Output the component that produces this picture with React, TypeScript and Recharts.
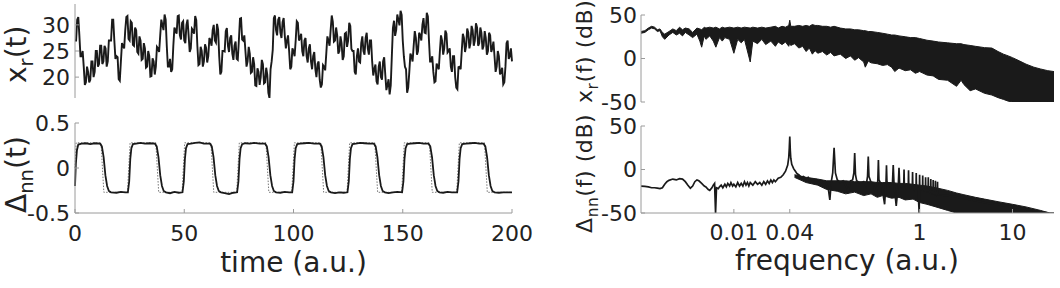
import React from 'react';
import { ComposedChart, Line, Area, XAxis, YAxis } from 'recharts';

const FONT = '"DejaVu Sans", "Liberation Sans", Arial, sans-serif';
const INK = '#1a1a1a';
const FRAME = '#9a9a9a';

// x_r(t), one reading every half time unit (t = 0..200)
const T_STEP = 0.5;
const xrValues = [
  27, 27, 31, 31.5, 28, 24, 24, 25, 22, 18.5, 19, 22, 21, 19, 19.5, 23, 23, 20, 21, 25,
  25, 22, 22.5, 26, 26, 22.5, 23, 26, 25.5, 22, 23, 27, 27, 27, 31, 31, 27, 23.5, 24, 23.8,
  19.6, 19.3, 23, 26.5, 26, 25.5, 29, 31.5, 31.7, 27.3, 27, 30.7, 30.4, 26.2, 26, 29.5, 29, 24.8, 24.5, 27.8,
  27, 23.3, 23.5, 26.5, 25.5, 21.8, 22, 25, 24, 20.1, 20.2, 23.6, 23, 20.5, 22, 25.8, 25.5, 24.8, 28, 31,
  30, 29, 32, 31, 26, 22, 22, 23.5, 21, 21.5, 26, 29.5, 29, 28.3, 31.7, 31.8, 28, 27.2, 30.4, 30.7,
  27, 26.5, 30, 31, 28, 24.8, 25.5, 29.3, 29, 28.3, 31.7, 30.9, 26, 22.3, 22.5, 25.8, 25, 22, 23, 26.3,
  25.6, 22.8, 24, 27.5, 27, 26, 29, 30, 27, 26.6, 30.2, 29.1, 24, 20.5, 21, 25, 25, 24.9, 28.8, 29.4,
  26, 24.8, 27.5, 28, 24.5, 23.3, 26, 26.8, 23.5, 23.3, 27, 31.2, 31.3, 27.2, 27, 28, 25, 22, 23, 25.8,
  24.5, 20.8, 21, 23.8, 22.5, 18.4, 18.3, 21.7, 21, 18.5, 20, 23.3, 22.5, 18.8, 19, 21.8, 20.5, 17, 16, 21.5,
  23, 25.2, 31.3, 31.8, 29, 28, 31, 31.5, 28.5, 27.5, 30.5, 31.3, 28, 25.5, 27, 28, 25, 21.5, 22, 25.5,
  25, 24, 27, 30.7, 30.4, 27, 27.5, 28.3, 25, 24, 27, 27.5, 24, 22.8, 25.5, 26.3, 23, 21.5, 24, 24.8,
  21.5, 20, 22.5, 23, 19.5, 18, 18.6, 22.3, 22, 21.3, 24.5, 27.8, 27, 26, 29, 31.8, 30.6, 26.8, 27, 29.5,
  28, 24.5, 25, 27.8, 26.5, 23.3, 24, 28.3, 28.5, 25.8, 27, 30.4, 29.8, 25.4, 25, 25, 21, 20.5, 24, 25.5,
  23, 22.8, 26.5, 27.8, 25, 24.3, 27.5, 28.5, 25.5, 24.3, 27, 27, 23, 20.3, 21.5, 22.4, 19.2, 18.6, 22, 23,
  20, 19.5, 23, 23.8, 20.5, 17.5, 18.5, 19.6, 16.7, 18.4, 24, 29.4, 30.8, 27.9, 29, 32, 31, 29.9, 32.7, 31.9,
  27, 24, 22, 21.5, 17, 18, 21, 24.5, 24, 23, 26, 28.8, 27.5, 24.3, 25, 28.5, 28, 27, 30, 31.3,
  28.5, 28.4, 32.3, 31.6, 27, 23, 23, 24, 21, 19, 19.2, 22.6, 22, 21.5, 25, 28, 27, 24.3, 25.5, 28.9,
  28.3, 24.7, 25, 25.5, 22, 21, 24, 24, 20, 18, 17.7, 21.9, 22, 21.5, 25, 28.3, 27.5, 24.8, 26, 29.3,
  28.5, 25.5, 26.5, 29.8, 29, 26, 27, 30.3, 29.5, 26, 26.5, 29.5, 28.5, 25.3, 26, 28.8, 27.5, 24.3, 25, 28.5,
  28, 24.8, 25.5, 26.8, 24, 21, 22, 25, 24, 20.5, 21, 21.8, 18.6, 19, 22, 26.5, 27, 23.5, 24, 25.5,
  23,
];

// Δnn(t) measured trace: [time, value]
const deltaSolid: [number, number][] = [
  [0, -0.2], [0.4, 0.05], [0.9, 0.2], [1.5, 0.26], [3, 0.27], [5, 0.275], [7, 0.265], [9, 0.275],
  [11.5, 0.27], [12.3, 0.24], [13.1, 0.12], [13.9, -0.08], [14.7, -0.2], [15.5, -0.255], [16.5, -0.27],
  [19, -0.275], [21, -0.265], [23, -0.27], [24.2, -0.27],
  [24.8, -0.15], [25.3, 0.1], [25.8, 0.22], [26.5, 0.265], [28, 0.27], [30, 0.28], [32, 0.27], [34, 0.275],
  [36.6, 0.27], [37.4, 0.24], [38.2, 0.12], [39, -0.08], [39.8, -0.2], [40.6, -0.255], [41.6, -0.27],
  [43.5, -0.28], [45.5, -0.265], [47.5, -0.275], [49.2, -0.27],
  [49.8, -0.15], [50.3, 0.1], [50.8, 0.22], [51.5, 0.265], [53, 0.27], [55, 0.28], [57, 0.285], [59, 0.27],
  [61.8, 0.27], [62.6, 0.24], [63.4, 0.12], [64.2, -0.08], [65, -0.2], [65.8, -0.255], [66.8, -0.27],
  [68.5, -0.28], [70.5, -0.29], [72.5, -0.275], [74.2, -0.27],
  [74.8, -0.15], [75.3, 0.1], [75.8, 0.22], [76.5, 0.265], [78, 0.275], [80, 0.27], [82, 0.28], [84.5, 0.27],
  [87, 0.27], [87.8, 0.24], [88.6, 0.12], [89.4, -0.08], [90.2, -0.2], [91, -0.255], [92, -0.27],
  [94, -0.275], [96, -0.265], [98, -0.27], [99.4, -0.27],
  [100, -0.15], [100.5, 0.1], [101, 0.22], [101.7, 0.265], [103, 0.27], [105, 0.275], [107, 0.28], [109.5, 0.27],
  [112.1, 0.27], [112.9, 0.24], [113.7, 0.12], [114.5, -0.08], [115.3, -0.2], [116.1, -0.255], [117.1, -0.27],
  [119, -0.28], [121, -0.27], [123, -0.275], [124.7, -0.27],
  [125.3, -0.15], [125.8, 0.1], [126.3, 0.22], [127, 0.265], [128.5, 0.27], [130.5, 0.28], [132.5, 0.275], [134.5, 0.27],
  [136.8, 0.27], [137.6, 0.24], [138.4, 0.12], [139.2, -0.08], [140, -0.2], [140.8, -0.255], [141.8, -0.27],
  [143.5, -0.28], [145.5, -0.27], [147.5, -0.265], [149.7, -0.27],
  [150.3, -0.15], [150.8, 0.1], [151.3, 0.22], [152, 0.265], [153.5, 0.27], [155.5, 0.275], [157.5, 0.28], [159.5, 0.27],
  [161.8, 0.27], [162.6, 0.24], [163.4, 0.12], [164.2, -0.08], [165, -0.2], [165.8, -0.255], [166.8, -0.27],
  [168.5, -0.275], [170.5, -0.265], [172.5, -0.27], [174.9, -0.27],
  [175.5, -0.15], [176, 0.1], [176.5, 0.22], [177.2, 0.265], [179, 0.27], [181, 0.275], [183, 0.28], [185, 0.27],
  [187, 0.27], [187.8, 0.24], [188.6, 0.12], [189.4, -0.08], [190.2, -0.2], [191, -0.255], [192, -0.27],
  [194, -0.275], [196, -0.27], [198, -0.27], [200, -0.27],
];

// Δnn(t) reference square wave (dotted)
const deltaDotted: [number, number][] = [
  [0, 0], [0.5, 0.28], [11.9, 0.28], [13.2, -0.27], [24, -0.27], [25.2, 0.28], [37, 0.28], [38.3, -0.27],
  [49, -0.27], [50.2, 0.28], [62.2, 0.28], [63.5, -0.27], [74, -0.27], [75.2, 0.28], [87.4, 0.28], [88.7, -0.27],
  [99.2, -0.27], [100.4, 0.28], [112.5, 0.28], [113.8, -0.27], [124.5, -0.27], [125.7, 0.28], [137.2, 0.28],
  [138.5, -0.27], [149.5, -0.27], [150.7, 0.28], [162.2, 0.28], [163.5, -0.27], [174.7, -0.27], [175.9, 0.28],
  [187.4, 0.28], [188.7, -0.27], [200, -0.27],
];

// x_r(f) spectrum envelope: [freq, top dB, bottom dB]
const xrSpectrum: [number, number, number][] = [
  [0.001, 31, 29], [0.0011, 32, 30], [0.0012, 35, 33], [0.0013, 37, 35], [0.0014, 36, 34],
  [0.0015, 33, 31], [0.0016, 34, 32], [0.0017, 30, 25], [0.0018, 28, 22], [0.002, 31, 27],
  [0.0022, 34, 30], [0.0024, 32, 27], [0.0026, 36, 29], [0.0028, 33, 26], [0.003, 35, 30],
  [0.0033, 34, 27], [0.0036, 30, 24], [0.004, 35, 28], [0.0043, 34, 20], [0.0045, 33, 13],
  [0.0048, 36, 26], [0.005, 35, 22], [0.0055, 36, 26], [0.006, 35, 20], [0.0064, 36, 13],
  [0.007, 34, 24], [0.0075, 36, 20], [0.008, 35, 24], [0.009, 36, 22], [0.01, 35, 6],
  [0.011, 36, 22], [0.012, 35, 18], [0.013, 36, 22], [0.015, 35, -4], [0.016, 36, 20],
  [0.018, 35, 17], [0.02, 36, 22], [0.022, 35, 16], [0.025, 36, 20], [0.028, 37, 14],
  [0.03, 35, 19], [0.033, 37, 16], [0.036, 36, 19], [0.039, 38, 14], [0.04, 44, 18],
  [0.041, 37, 15], [0.045, 37, 17], [0.05, 38, 12], [0.055, 37, 14], [0.06, 38, 8],
  [0.065, 37, 12], [0.07, 39, 5], [0.075, 38, 9], [0.08, 38, 6], [0.09, 37, 8],
  [0.1, 37, 4], [0.11, 36, 7], [0.12, 37, 3], [0.14, 35, 5], [0.16, 34, 0],
  [0.18, 34, 3], [0.2, 33, -2], [0.22, 33, 1], [0.25, 32, -4], [0.26, 32, -10],
  [0.28, 31, -3], [0.3, 31, -5], [0.35, 30, -6], [0.4, 29, -8], [0.45, 28, -7],
  [0.5, 27, -10], [0.54, 27, -15], [0.6, 26, -11], [0.7, 25, -14], [0.8, 24, -13],
  [0.9, 24, -17], [1, 23, -15], [1.2, 21, -19], [1.4, 20, -20], [1.6, 19, -24],
  [2, 18, -25], [2.5, 17, -32], [2.8, 17, -25], [3, 16, -30], [3.5, 15, -37],
  [4, 14, -35], [5, 12.5, -40], [6, 12, -42], [7, 8, -45], [8, 5, -47],
  [9, 3, -49], [10, 1, -50], [12, -3, -50], [14, -6.5, -50], [17, -10, -50],
  [20, -12, -50], [24, -14, -50], [28, -15, -50],
];

// Δnn(f) spectrum trace: [freq, dB]
const dnSpectrum: [number, number][] = [
  [0.001, -19], [0.0011, -19.5], [0.0012, -20], [0.0013, -21], [0.0014, -21], [0.0015, -21.5],
  [0.0016, -22], [0.0017, -21], [0.0018, -17], [0.0019, -14], [0.002, -12.5], [0.0022, -11],
  [0.0024, -12], [0.0026, -10.5], [0.0028, -11], [0.003, -14], [0.0032, -18], [0.0034, -21.5],
  [0.0036, -19], [0.0038, -14], [0.004, -12], [0.0042, -13], [0.0045, -16], [0.0048, -19],
  [0.005, -20], [0.0053, -23], [0.0055, -24], [0.0058, -21], [0.006, -18], [0.0062, -16],
  [0.00635, -50], [0.0065, -21], [0.0068, -22], [0.007, -20], [0.0073, -18], [0.0076, -21],
  [0.008, -17], [0.0083, -20], [0.0086, -16], [0.009, -19], [0.0093, -15], [0.0097, -19],
  [0.01, -17], [0.0105, -20], [0.011, -15], [0.0115, -19], [0.012, -16], [0.0125, -19],
  [0.013, -14], [0.0135, -18], [0.014, -15], [0.0145, -19], [0.015, -15], [0.016, -18],
  [0.017, -14], [0.018, -17], [0.019, -15], [0.02, -18], [0.021, -14], [0.022, -17],
  [0.023, -13], [0.024, -16], [0.025, -12], [0.026, -15], [0.027, -12], [0.028, -14],
  [0.03, -10], [0.032, -9], [0.034, -6], [0.036, -2], [0.038, 5], [0.039, 14],
  [0.0395, 24], [0.04, 38], [0.0405, 22], [0.041, 13], [0.042, 6], [0.044, 1],
  [0.046, -2], [0.048, -5], [0.05, -6], [0.053, -9], [0.056, -8], [0.06, -11],
  [0.063, -9], [0.066, -13], [0.07, -11], [0.074, -14], [0.078, -12], [0.082, -15],
  [0.086, -13], [0.09, -16], [0.095, -14], [0.1, -17], [0.104, -22], [0.108, -35],
  [0.112, -14], [0.116, -4], [0.12, 25], [0.124, -4], [0.13, -12], [0.14, -15],
  [0.15, -13], [0.16, -18], [0.17, -25], [0.18, -13], [0.19, -12], [0.196, -4],
  [0.2, 19], [0.204, -6], [0.21, -13], [0.23, -16], [0.25, -14], [0.265, -19],
  [0.275, -8], [0.28, 15], [0.285, -8], [0.3, -15], [0.32, -17], [0.34, -30],
  [0.355, -12], [0.36, 11], [0.365, -12], [0.39, -18], [0.42, -40], [0.435, -14],
  [0.44, 5], [0.445, -14], [0.48, -19], [0.51, -16], [0.52, 5], [0.53, -16],
  [0.56, -42], [0.59, -17], [0.6, 2], [0.61, -17], [0.64, -20], [0.675, -17],
  [0.68, 0], [0.685, -18], [0.72, -22], [0.755, -18], [0.76, -1], [0.765, -18],
  [0.8, -22], [0.835, -19], [0.84, -3], [0.845, -19], [0.88, -23], [0.915, -20],
  [0.92, -4], [0.925, -20], [0.96, -22], [0.99, -50], [0.995, -20], [1, -6],
  [1.005, -21], [1.04, -23], [1.075, -21], [1.08, -7], [1.085, -22], [1.12, -24],
  [1.155, -22], [1.16, -9], [1.165, -22], [1.2, -25], [1.235, -23], [1.24, -9],
  [1.245, -23], [1.28, -26], [1.315, -24], [1.32, -11], [1.325, -24], [1.36, -27],
  [1.395, -25], [1.4, -12], [1.405, -25], [1.44, -28], [1.475, -26], [1.48, -13],
  [1.485, -26], [1.52, -29], [1.555, -27], [1.56, -14], [1.565, -27], [1.6, -29],
  [2, -30], [3, -33], [5, -38], [10, -43], [17, -47], [25, -50],
];

// dense part of the Δnn(f) spectrum: [freq, top dB, bottom dB]
const dnBand: [number, number, number][] = [
  [0.045, -6, -9], [0.06, -9, -15], [0.08, -11, -18], [0.1, -13, -23], [0.13, -13, -25],
  [0.16, -13, -28], [0.2, -14, -26], [0.25, -14, -30], [0.3, -14, -28], [0.35, -15, -32],
  [0.4, -15, -30], [0.5, -15, -33], [0.6, -16, -32], [0.7, -16, -35], [0.85, -17, -34],
  [1, -18, -38], [1.2, -19, -40], [1.5, -21, -43], [2, -24, -47], [2.5, -27, -50],
  [3, -29, -50], [4, -32, -50], [5, -34, -50], [7, -37, -50], [10, -40, -50],
  [14, -43, -50], [20, -47, -50], [25, -50, -50], [28, -50, -50],
];

const timeTicks = [0, 50, 100, 150, 200];
const xrTicks = [20, 25, 30];
const deltaTicks = [-0.5, 0, 0.5];
const dbTicks = [-50, 0, 50];
const freqTicksTop = [0.01, 1, 10];
const freqTicks = [0.01, 0.04, 1, 10];
const FREQ_DOMAIN: [number, number] = [0.001, 28];

const xrData = xrValues.map((v, i) => ({ t: i * T_STEP, v }));
const solidData = deltaSolid.map(([t, v]) => ({ t, v }));
const dottedData = deltaDotted.map(([t, v]) => ({ t, v }));
const xrSpecData = xrSpectrum.map(([f, hi, lo]) => ({ f, band: [lo, hi] }));
const dnLineData = dnSpectrum.map(([f, v]) => ({ f, v }));
const dnBandData = dnBand.map(([f, hi, lo]) => ({ f, band: [lo, hi] }));

const tickStyle = { fill: '#222', fontSize: 22, fontFamily: FONT };

// rotated axis title with a subscript, e.g. x_r(t)
const yTitle = (x: number, y: number, size: number, spacing: number, head: string, sub: string, tail: string) =>
  () => (
    <text x={x} y={y} transform={`rotate(-90 ${x} ${y})`} fill="#222" fontSize={size} fontFamily={FONT}
      letterSpacing={spacing}>
      <tspan>{head}</tspan>
      <tspan dy={size * 0.25} fontSize={size * 0.7}>{sub}</tspan>
      <tspan dy={-size * 0.25}>{tail}</tspan>
    </text>
  );

const xTitle = (x: number, y: number, text: string) => () => (
  <text x={x} y={y} textAnchor="middle" fill="#222" fontSize={28} fontFamily={FONT}>
    {text}
  </text>
);

const box = (left: number, top: number): React.CSSProperties => ({ position: 'absolute', left, top });

export default function App() {
  return (
    <div style={{ position: 'absolute', left: 0, top: 0, width: 1060, height: 288, background: '#fff' }}>
      {/* x_r(t) */}
      <div style={box(0, 0)}>
        <ComposedChart width={540} height={110} data={xrData} margin={{ top: 4, right: 28, bottom: 12, left: 0 }}>
          <XAxis dataKey="t" type="number" domain={[0, 200]} ticks={timeTicks} interval={0} tick={false} height={0}
            axisLine={{ stroke: FRAME }} tickLine={{ stroke: FRAME }} tickSize={-4} />
          <XAxis xAxisId="top" orientation="top" dataKey="t" type="number" domain={[0, 200]} ticks={timeTicks}
            interval={0} tick={false} height={0} axisLine={{ stroke: FRAME }} tickLine={{ stroke: FRAME }} tickSize={-4} />
          <YAxis type="number" domain={[16, 34]} allowDataOverflow ticks={xrTicks} interval={0} width={75}
            tick={tickStyle} axisLine={{ stroke: FRAME }} tickLine={{ stroke: FRAME }} tickSize={-4} tickMargin={9}
            label={yTitle(26, 83, 28, 0, 'x', 'r', '(t)')} />
          <YAxis yAxisId="right" orientation="right" type="number" domain={[16, 34]} ticks={xrTicks} interval={0}
            width={0} tick={false} axisLine={{ stroke: FRAME }} tickLine={{ stroke: FRAME }} tickSize={-4} />
          <Line dataKey="v" type="linear" stroke={INK} strokeWidth={1.9} dot={false} isAnimationActive={false} />
        </ComposedChart>
      </div>

      {/* Δnn(t) */}
      <div style={box(0, 110)}>
        <ComposedChart width={540} height={178} margin={{ top: 13, right: 28, bottom: 0, left: 0 }}>
          <XAxis dataKey="t" type="number" domain={[0, 200]} ticks={timeTicks} interval={0} height={75}
            tick={tickStyle} axisLine={{ stroke: FRAME }} tickLine={{ stroke: FRAME }} tickSize={-4} tickMargin={16}
            label={xTitle(293.5, 161.5, 'time (a.u.)')} />
          <XAxis xAxisId="top" orientation="top" dataKey="t" type="number" domain={[0, 200]} ticks={timeTicks}
            interval={0} tick={false} height={0} axisLine={{ stroke: FRAME }} tickLine={{ stroke: FRAME }} tickSize={-4} />
          <YAxis type="number" domain={[-0.5, 0.5]} allowDataOverflow ticks={deltaTicks} interval={0} width={75}
            tick={tickStyle} axisLine={{ stroke: FRAME }} tickLine={{ stroke: FRAME }} tickSize={-4} tickMargin={9}
            label={yTitle(26, 103, 28, 0, '\u0394', 'nn', '(t)')} />
          <YAxis yAxisId="right" orientation="right" type="number" domain={[-0.5, 0.5]} ticks={deltaTicks} interval={0}
            width={0} tick={false} axisLine={{ stroke: FRAME }} tickLine={{ stroke: FRAME }} tickSize={-4} />
          <Line data={dottedData} dataKey="v" type="linear" stroke="#777" strokeWidth={1} strokeDasharray="1.5 1.5"
            dot={false} isAnimationActive={false} />
          <Line data={solidData} dataKey="v" type="linear" stroke={INK} strokeWidth={1.8} dot={false}
            isAnimationActive={false} />
        </ComposedChart>
      </div>

      {/* x_r(f) */}
      <div style={box(540, 0)}>
        <ComposedChart width={520} height={122} data={xrSpecData} margin={{ top: 15, right: 6, bottom: 20, left: 0 }}>
          <XAxis dataKey="f" type="number" scale="log" domain={FREQ_DOMAIN} allowDataOverflow ticks={freqTicksTop}
            interval={0} tick={false} height={0} axisLine={{ stroke: FRAME }} tickLine={{ stroke: FRAME }} tickSize={-4} />
          <XAxis xAxisId="top" orientation="top" dataKey="f" type="number" scale="log" domain={FREQ_DOMAIN}
            allowDataOverflow ticks={freqTicksTop} interval={0} tick={false} height={0} axisLine={{ stroke: FRAME }}
            tickLine={{ stroke: FRAME }} tickSize={-4} />
          <YAxis type="number" domain={[-50, 50]} allowDataOverflow ticks={dbTicks} interval={0} width={101}
            tick={tickStyle} axisLine={{ stroke: FRAME }} tickLine={{ stroke: FRAME }} tickSize={-4} tickMargin={8}
            label={yTitle(52, 103, 22, 0.6, 'x', 'r', '(f) (dB)')} />
          <YAxis yAxisId="right" orientation="right" type="number" domain={[-50, 50]} ticks={dbTicks} interval={0}
            width={0} tick={false} axisLine={{ stroke: FRAME }} tickLine={{ stroke: FRAME }} tickSize={-4} />
          <Area dataKey="band" type="linear" stroke={INK} strokeWidth={1} fill={INK} fillOpacity={1}
            dot={false} isAnimationActive={false} />
        </ComposedChart>
      </div>

      {/* Δnn(f) */}
      <div style={box(540, 90)}>
        <ComposedChart width={520} height={198} data={dnBandData} margin={{ top: 36, right: 6, bottom: 0, left: 0 }}>
          <XAxis dataKey="f" type="number" scale="log" domain={FREQ_DOMAIN} allowDataOverflow ticks={freqTicks}
            interval={0} height={75} tick={tickStyle} axisLine={{ stroke: FRAME }} tickLine={{ stroke: FRAME }}
            tickSize={-4} tickMargin={15} label={xTitle(307, 180, 'frequency (a.u.)')} />
          <XAxis xAxisId="top" orientation="top" dataKey="f" type="number" scale="log" domain={FREQ_DOMAIN}
            allowDataOverflow ticks={freqTicks} interval={0} tick={false} height={0} axisLine={{ stroke: FRAME }}
            tickLine={{ stroke: FRAME }} tickSize={-4} />
          <YAxis type="number" domain={[-50, 50]} allowDataOverflow ticks={dbTicks} interval={0} width={101}
            tick={tickStyle} axisLine={{ stroke: FRAME }} tickLine={{ stroke: FRAME }} tickSize={-4} tickMargin={8}
            label={yTitle(52, 143, 22, 0.6, '\u0394', 'nn', '(f) (dB)')} />
          <YAxis yAxisId="right" orientation="right" type="number" domain={[-50, 50]} ticks={dbTicks} interval={0}
            width={0} tick={false} axisLine={{ stroke: FRAME }} tickLine={{ stroke: FRAME }} tickSize={-4} />
          <Area dataKey="band" type="linear" stroke={INK} strokeWidth={1} fill={INK} fillOpacity={1}
            dot={false} isAnimationActive={false} />
          <Line data={dnLineData} dataKey="v" type="linear" stroke={INK} strokeWidth={1.7} dot={false}
            isAnimationActive={false} />
        </ComposedChart>
      </div>
    </div>
  );
}
